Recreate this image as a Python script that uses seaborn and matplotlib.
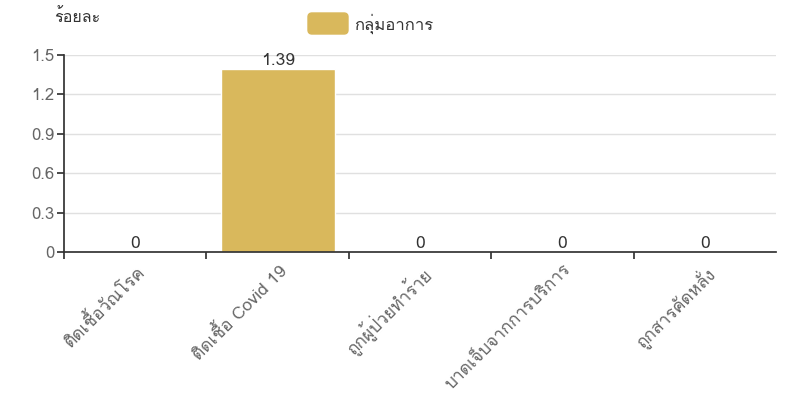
import matplotlib
matplotlib.use("Agg")
import matplotlib.pyplot as plt
from matplotlib import font_manager
from matplotlib.ft2font import FT2Font
from matplotlib.patches import FancyBboxPatch
import seaborn as sns
import pandas as pd

categories = ["ติดเชื้อวัณโรค", "ติดเชื้อ Covid 19", "ถูกผู้ป่วยทำร้าย", "บาดเจ็บจากการบริการ", "ถูกสารคัดหลั่ง"]
values = [0, 1.39, 0, 0, 0]
value_labels = ["0", "1.39", "0", "0", "0"]
series_name = "กลุ่มอาการ"
y_title = "ร้อยละ"
y_ticks = [0, 0.3, 0.6, 0.9, 1.2, 1.5]
y_tick_labels = ["0", "0.3", "0.6", "0.9", "1.2", "1.5"]

# find a font with Thai glyphs
thai_fams = []
for f in font_manager.fontManager.ttflist:
    try:
        cm = FT2Font(f.fname).get_charmap()
        if 0x0E01 in cm and 0x0E40 in cm:
            if f.name not in thai_fams:
                thai_fams.append(f.name)
    except Exception:
        pass

sns.set_theme(style="white")
fams = thai_fams + ["DejaVu Sans"]
plt.rcParams["font.family"] = fams

df = pd.DataFrame({"cat": categories, "val": values, "series": series_name})

fig = plt.figure(figsize=(7.85, 3.99), dpi=100)
ax = fig.add_axes([64/785, 1 - 252/399, (776-64)/785, (252-55)/399])
color = "#d9b85c"
sns.barplot(data=df, x="cat", y="val", hue="series", palette=[color], width=0.8, ax=ax, legend=False, saturation=1)

ax.set_ylim(0, 1.5)
ax.set_xlim(-0.5, len(categories) - 0.5)
ax.set_yticks(y_ticks)
ax.set_yticklabels(y_tick_labels, fontsize=12, color="#666666")
ax.yaxis.grid(True, color="#e0e0e0", linewidth=1)
ax.set_axisbelow(True)
for s in ["top", "right"]:
    ax.spines[s].set_visible(False)
ax.spines["left"].set_color("#333333")
ax.spines["bottom"].set_color("#333333")
ax.tick_params(axis="y", which="both", left=True, length=5, color="#333333", pad=2)

# category tick marks at boundaries
ax.set_xticks([i - 0.5 for i in range(len(categories))], minor=False)
ax.set_xticklabels([""] * len(categories))
ax.tick_params(axis="x", which="major", bottom=True, length=5, color="#333333")
ax.set_xticks(range(len(categories)), minor=True)
ax.set_xticklabels(categories, minor=True, rotation=45, ha="right", rotation_mode="anchor", fontsize=12.5, color="#666666")
ax.tick_params(axis="x", which="minor", length=0, pad=7)

ax.set_xlabel("")
ax.set_ylabel("")

for i, (v, lab) in enumerate(zip(values, value_labels)):
    ax.text(i, v, lab, ha="center", va="bottom", fontsize=12.5, color="#333333")

fig.text(77/785, 1 - 18/399, y_title, ha="center", va="center", fontsize=11.5, color="#333333")

# legend
leg_ax = fig.add_axes([0, 0, 1, 1], facecolor="none")
leg_ax.set_xlim(0, 785); leg_ax.set_ylim(399, 0); leg_ax.axis("off")
leg_ax.add_patch(FancyBboxPatch((308, 13), 40, 21, boxstyle="round,pad=0,rounding_size=4", color=color))
leg_ax.text(354, 24, series_name, va="center", ha="left", fontsize=12, color="#333333")

fig.savefig("out.png", dpi=100)
